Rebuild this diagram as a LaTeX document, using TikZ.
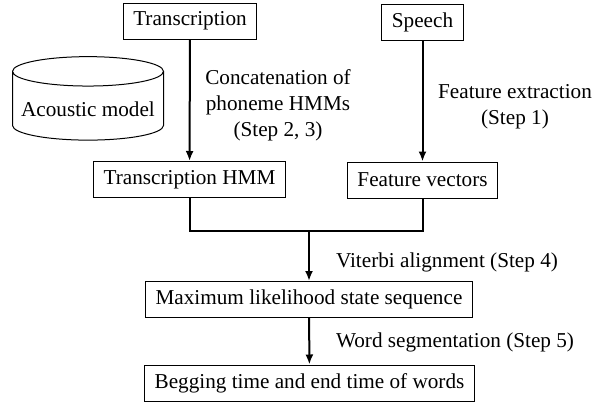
\documentclass[tikz,border=0pt]{standalone}
\usepackage{fontspec}
\setmainfont{Liberation Serif}
\usepackage{tikz}
\usetikzlibrary{shapes.geometric,arrows.meta}
\tikzset{
    flow-box/.style = {draw=black, line width=0.5pt, rectangle, inner xsep=5pt, inner ysep=0pt, minimum height=18pt, font=\fontsize{10.6}{13}\selectfont},
    flow-arrow/.style = {line width=1pt, -{Latex[length=5pt,width=4pt]}},
    flow-line/.style = {line width=1pt},
    step-label/.style = {align=center, font=\fontsize{10.6}{13}\selectfont},
}

\begin{document}
\begin{tikzpicture}[x=0.5pt,y=0.5pt]
\useasboundingbox (0,0) rectangle (604,403);
\node [flow-box] (trans) at (190,382) {Transcription};
\node [flow-box] (speech) at (422.5,381) {Speech};
\node [cylinder, shape border rotate=90, aspect=0.2, draw, line width=0.5pt, minimum width=75.5pt, minimum height=37.5pt, inner ysep=7.5pt, font=\fontsize{10.6}{13}\selectfont] (am) at (88,294) {Acoustic model};
\node [flow-box] (thmm) at (189.5,223.5) {Transcription HMM};
\node [flow-box] (fv) at (422.5,223) {Feature vectors};
\node [flow-box] (mls) at (309,103.5) {Maximum likelihood state sequence};
\node [flow-box] (beg) at (309.5,20) {Begging time and end time of words};
\coordinate (join) at (309,172);

\draw [flow-arrow] (trans) -- (thmm);
\draw [flow-arrow] (speech) -- (fv);
\draw [flow-line] (thmm.south) |- (join) -| (fv.south);
\draw [flow-arrow] (join) -- (mls);
\draw [flow-arrow] (mls) -- (beg);

\node [step-label] (concat) at (278,298) {Concatenation of\\phoneme HMMs\\(Step 2, 3)};
\node [step-label] (fext) at (515,296.5) {Feature extraction\\(Step 1)};
\node [step-label, anchor=west] (viterbi) at (329,141) {Viterbi alignment (Step 4)};
\node [step-label, anchor=west] (wseg) at (329,61) {Word segmentation (Step 5)};
\end{tikzpicture}
\end{document}
